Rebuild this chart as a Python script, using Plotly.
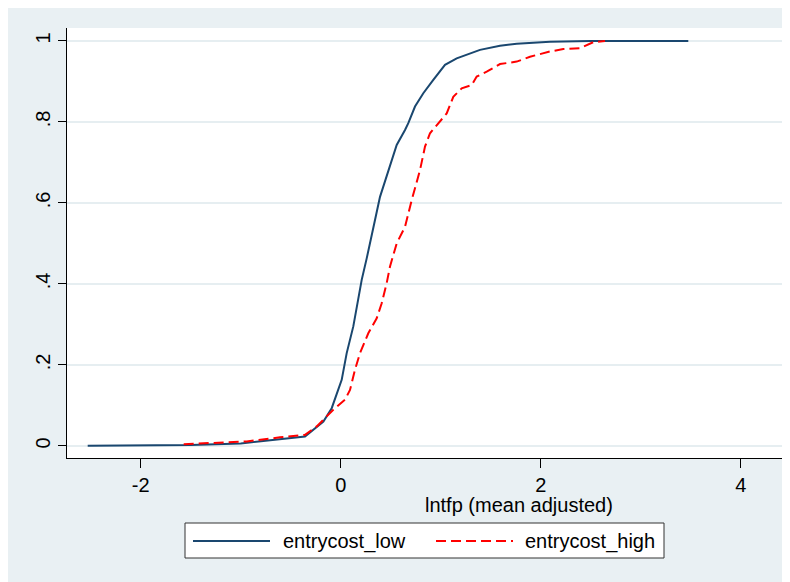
import plotly.graph_objects as go

# ---- data ----
low_x = [-2.53, -1.5, -1.0, -0.607, -0.357, -0.173, -0.09, 0.01, 0.06, 0.126, 0.176, 0.21, 0.26,
         0.31, 0.343, 0.393, 0.476, 0.56, 0.643, 0.676, 0.743, 0.826, 0.926, 1.043, 1.16, 1.293,
         1.393, 1.593, 1.76, 2.093, 2.5, 3.476]
low_y = [0.0, 0.002, 0.006, 0.017, 0.023, 0.06, 0.093, 0.163, 0.229, 0.295, 0.36, 0.41, 0.463,
         0.525, 0.558, 0.615, 0.681, 0.743, 0.780, 0.797, 0.838, 0.871, 0.904, 0.941, 0.957, 0.970,
         0.978, 0.988, 0.993, 0.998, 1.0, 1.0]

high_x = [-1.57, -0.94, -0.607, -0.357, -0.24, -0.074, 0.043, 0.093, 0.143, 0.193, 0.276, 0.36,
          0.41, 0.46, 0.493, 0.56, 0.643, 0.71, 0.793, 0.843, 0.893, 0.993, 1.06, 1.126, 1.21,
          1.31, 1.36, 1.46, 1.593, 1.76, 1.893, 2.093, 2.226, 2.393, 2.46, 2.526, 2.643]
high_y = [0.004, 0.011, 0.021, 0.027, 0.048, 0.089, 0.114, 0.138, 0.188, 0.229, 0.278, 0.315,
          0.352, 0.402, 0.443, 0.5, 0.541, 0.607, 0.681, 0.739, 0.772, 0.801, 0.821, 0.862, 0.883,
          0.891, 0.912, 0.924, 0.943, 0.949, 0.961, 0.974, 0.980, 0.982, 0.990, 0.997, 1.0]

series_names = ["entrycost_low", "entrycost_high"]
x_ticks = [-2, 0, 2, 4]
x_tick_labels = ["-2", "0", "2", "4"]
y_ticks = [0, 0.2, 0.4, 0.6, 0.8, 1]
y_tick_labels = ["0", ".2", ".4", ".6", ".8", "1"]
x_title = "lntfp (mean adjusted)"

# ---- styling ----
OFF = 8  # page body margin
W, H = 790, 582
L, R, T, B = 67 - OFF, 13, 28 - OFF, 132
PW, PH = W - L - R, H - T - B
BG = "#E9F0F3"
NAVY = "#1A476F"
RED = "#FF0000"
FONT = "Liberation Sans, Arial, sans-serif"
FS = 20


def px(xs):
    return (xs - OFF - L) / PW


def py(ys):
    return (H - B - (ys - OFF)) / PH


fig = go.Figure()
fig.add_trace(go.Scatter(x=low_x, y=low_y, mode="lines", name=series_names[0],
                         line=dict(color=NAVY, width=2)))
fig.add_trace(go.Scatter(x=high_x, y=high_y, mode="lines", name=series_names[1],
                         line=dict(color=RED, width=2, dash="10px,5px")))

shapes = [
    # legend box
    dict(type="rect", xref="paper", yref="paper", x0=px(185), x1=px(664), y0=py(558), y1=py(523),
         fillcolor="white", line=dict(color="#333333", width=1)),
    dict(type="line", xref="paper", yref="paper", x0=px(193), x1=px(270), y0=py(541), y1=py(541),
         line=dict(color=NAVY, width=2)),
    dict(type="line", xref="paper", yref="paper", x0=px(436), x1=px(513), y0=py(541), y1=py(541),
         line=dict(color=RED, width=2, dash="10px,5px")),
]

annotations = [
    dict(text=x_title, xref="paper", yref="paper", x=px(519), y=py(505), showarrow=False,
         xanchor="center", yanchor="middle", font=dict(size=FS, color="black", family=FONT)),
    dict(text=series_names[0], xref="paper", yref="paper", x=px(281), y=py(541), showarrow=False,
         xanchor="left", yanchor="middle", font=dict(size=FS, color="black", family=FONT)),
    dict(text=series_names[1], xref="paper", yref="paper", x=px(523), y=py(541), showarrow=False,
         xanchor="left", yanchor="middle", font=dict(size=FS, color="black", family=FONT)),
]

fig.update_layout(
    width=W, height=H,
    margin=dict(l=L, r=R, t=T, b=B, pad=0),
    paper_bgcolor=BG, plot_bgcolor="white",
    showlegend=False,
    font=dict(family=FONT, size=FS, color="black"),
    shapes=shapes, annotations=annotations,
    xaxis=dict(range=[-2.737, 4.443], tickvals=x_ticks, ticktext=x_tick_labels, ticks="outside",
               ticklen=9, tickcolor="black", tickwidth=1, showline=True, linecolor="black",
               linewidth=1, showgrid=False, zeroline=False, tickfont=dict(size=FS)),
    yaxis=dict(range=[-0.03, 1.032], tickvals=y_ticks, ticktext=y_tick_labels, ticks="outside",
               ticklen=8, tickcolor="black", tickwidth=1, showline=True, linecolor="black",
               linewidth=1, showgrid=True, gridcolor="#E6EEF1", gridwidth=2, zeroline=False,
               tickangle=-90, tickfont=dict(size=FS)),
)

fig.write_html("out.html")
